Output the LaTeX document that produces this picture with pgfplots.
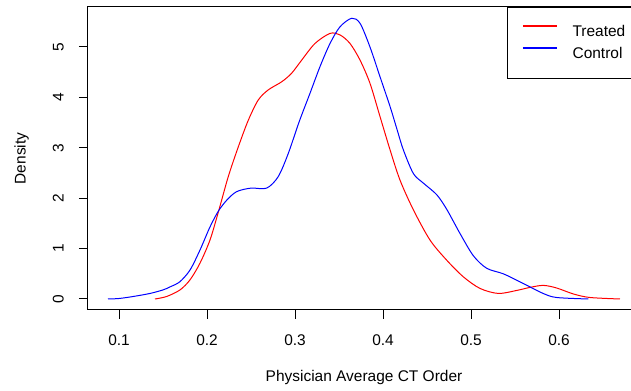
\documentclass[border=0pt]{standalone}
\usepackage{fontspec}
\setmainfont{Liberation Sans}
\usepackage{pgfplots}
\pgfplotsset{compat=1.18}
\begin{document}
\fontsize{11.6}{14}\selectfont
\begin{tikzpicture}
\useasboundingbox (-65.625pt,-60.75pt) rectangle (407.625pt,232.5pt);
\begin{axis}[
  at={(0,0)}, anchor=south west,
  scale only axis, width=414.75pt, height=227.25pt,
  xmin=0.0642, xmax=0.69261, ymin=-0.2183, ymax=5.7937,
  axis line style={line width=0.75pt},
  xtick={0.1,0.2,0.3,0.4,0.5,0.6},
  ytick={0,1,2,3,4,5},
  /pgf/number format/assume math mode=true,
  xticklabel style={/pgf/number format/fixed, /pgf/number format/precision=1, anchor=center},
  xticklabel shift=16.1pt,
  yticklabel style={anchor=center, rotate=90},
  yticklabel shift=15.5pt,
  tick align=outside, tick pos=left,
  major tick length=6.4pt,
  tick style={black, line width=0.75pt},
  xlabel={Physician Average CT Order},
  ylabel={Density},
  xlabel style={at={(axis description cs:0.5,-0.2244)}, anchor=center},
  ylabel style={at={(axis description cs:-0.1190,0.5)}, anchor=center},
  legend style={at={(axis description cs:1,1)}, anchor=north east, draw=black, line width=0.75pt,
    inner xsep=11pt, inner ysep=13.3pt, row sep=6.3pt, column sep=11pt,
    nodes={inner sep=0pt}},
  legend cell align=left,
  legend image code/.code={\draw[#1, line width=1.5pt] (0pt,4.2pt) -- (25.5pt,4.2pt);},
]
\addplot[red, line width=0.75pt, smooth] coordinates {
(0.1409,0) (0.1542,0.05) (0.1693,0.18) (0.1807,0.38) (0.192,0.71) (0.2034,1.17)
(0.2128,1.72) (0.2242,2.43) (0.2356,3.02) (0.247,3.55) (0.2583,3.95) (0.2697,4.15)
(0.2849,4.31) (0.2962,4.48) (0.3076,4.74) (0.3227,5.07) (0.3398,5.27) (0.3511,5.24)
(0.3625,5.07) (0.3739,4.74) (0.3852,4.28) (0.3966,3.62) (0.408,2.96) (0.4193,2.36)
(0.4345,1.77) (0.4534,1.17) (0.4724,0.77) (0.4913,0.44) (0.5102,0.21) (0.531,0.11)
(0.552,0.17) (0.567,0.23) (0.582,0.27) (0.597,0.22) (0.6163,0.10) (0.635,0.03) (0.6693,0)
};
\addlegendentry{Treated}
\addplot[blue, line width=0.75pt, smooth] coordinates {
(0.0875,0) (0.100,0.01) (0.1163,0.05) (0.1352,0.11) (0.150,0.18) (0.158,0.24)
(0.169,0.34) (0.1807,0.575) (0.192,0.97) (0.2034,1.43) (0.2128,1.74) (0.2224,1.96)
(0.2337,2.13) (0.250,2.20) (0.2678,2.20) (0.281,2.43) (0.2924,2.89) (0.3048,3.52)
(0.317,4.08) (0.3284,4.61) (0.3398,5.07) (0.3511,5.40) (0.3644,5.57) (0.3739,5.47)
(0.3852,5.00) (0.3966,4.41) (0.408,3.82) (0.4155,3.39) (0.4231,2.96) (0.4345,2.49)
(0.4458,2.30) (0.461,2.07) (0.4724,1.78) (0.4875,1.30) (0.5026,0.86) (0.5178,0.61)
(0.5367,0.50) (0.5557,0.34) (0.567,0.24) (0.582,0.11) (0.597,0.03) (0.6333,0)
};
\addlegendentry{Control}
\end{axis}
\end{tikzpicture}
\end{document}
